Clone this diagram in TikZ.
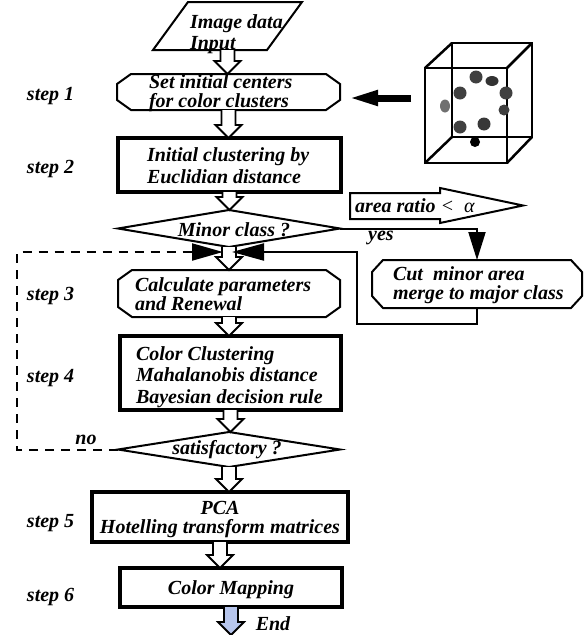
\documentclass[tikz,border=0pt]{standalone}
\usepackage{fontspec}
\setmainfont{Liberation Serif}
\usetikzlibrary{shapes.geometric,arrows.meta,calc}
\definecolor{endblue}{RGB}{182,197,236}
\definecolor{dotgray}{RGB}{64,64,64}
\definecolor{dotlight}{RGB}{112,112,112}
\newcommand{\chamf}[3]{\draw[boxline] ($(#1.north west)+(#2,0)$) -- ($(#1.north east)+(-#2,0)$) -- ($(#1.north east)+(0,-#3)$) -- ($(#1.south east)+(0,#3)$) -- ($(#1.south east)+(-#2,0)$) -- ($(#1.south west)+(#2,0)$) -- ($(#1.south west)+(0,#3)$) -- ($(#1.north west)+(0,-#3)$) -- cycle;}
\newcommand{\hollowarr}[3]{\filldraw[hollow, fill=#1] let \p1=(#2), \p2=(#3) in (\x1-7pt,\y1) -- (\x1-7pt,\y2+13pt) -- (\x1-13pt,\y2+13pt) -- (\x1,\y2) -- (\x1+13pt,\y2+13pt) -- (\x1+7pt,\y2+13pt) -- (\x1+7pt,\y1);}
\begin{document}
\begin{tikzpicture}[x=1pt,y=1pt,
  txt/.style={font=\fontsize{20}{19}\selectfont\bfseries\itshape, inner sep=0pt, outer sep=0pt},
  plain/.style={rectangle, inner sep=0pt, outer sep=0pt},
  boxline/.style={line width=2pt, line join=miter},
  thickbox/.style={rectangle, draw, line width=3.5pt, inner sep=0pt, outer sep=0pt},
  dia/.style={diamond, draw, line width=2pt, inner sep=0pt, outer sep=0pt},
  conn/.style={line width=2pt},
  hollow/.style={line width=1.8pt, line join=miter},
  cubeline/.style={line width=2.5pt, line join=miter}]
\useasboundingbox (0,0) rectangle (586,-635);

% ---- main column nodes ----
\node[plain, minimum width=149pt, minimum height=48pt] (in) at (227.5,-26) {};
\draw[boxline] ($(in.south west)$) -- ($(in.south east)+(-35,0)$) -- (in.north east) -- ($(in.north west)+(35,0)$) -- cycle;
\node[txt, anchor=west, align=left, font=\fontsize{20}{21}\selectfont\bfseries\itshape] (tin) at (190,-34) {Image data\\Input};

\node[plain, minimum width=223pt, minimum height=36pt] (s1) at (228.5,-92) {};
\chamf{s1}{14}{10}
\node[txt, anchor=west, align=left] (ts1) at (149,-93) {Set initial centers\\for color clusters};

\node[thickbox, minimum width=223pt, minimum height=54pt] (s2) at (229.5,-165) {};
\node[txt, anchor=west, align=left, font=\fontsize{20}{22}\selectfont\bfseries\itshape] (ts2) at (147,-166) {Initial clustering by\\Euclidian distance};

\node[dia, minimum width=222pt, minimum height=37pt] (d1) at (229,-228.5) {};
\node[txt] (td1) at (234,-230) {Minor class ?};

\node[plain, minimum width=222pt, minimum height=47pt] (s3) at (229,-293.5) {};
\chamf{s3}{14}{10}
\node[txt, anchor=west, align=left] (ts3) at (135,-294.5) {Calculate parameters\\and Renewal};

\node[thickbox, minimum width=221pt, minimum height=74pt] (s4) at (230.5,-373) {};
\node[txt, anchor=west, align=left, font=\fontsize{20}{21.5}\selectfont\bfseries\itshape] (ts4) at (136,-377) {Color Clustering\\Mahalanobis distance\\Bayesian decision rule};

\node[dia, minimum width=222pt, minimum height=35pt] (d2) at (229,-449.5) {};
\node[txt] (td2) at (227,-450) {satisfactory ?};

\node[thickbox, minimum width=256pt, minimum height=50pt] (s5) at (220,-517) {};
\node[txt, align=center] (ts5) at (220,-520) {PCA\\Hotelling transform matrices};

\node[thickbox, minimum width=222pt, minimum height=39pt] (s6) at (231,-587.5) {};
\node[txt] (ts6) at (231,-590) {Color Mapping};

\coordinate (endpt) at (232,-635);
\node[txt] (tend) at (273,-624) {End};

% ---- right side ----
\node[plain, minimum width=210pt, minimum height=48pt] (cut) at (477,-284) {};
\chamf{cut}{11}{12}
\node[txt, anchor=west, align=left] (tcut) at (393,-285) {Cut\ \ minor area\\merge to major class};

\node[plain, minimum width=173pt, minimum height=35pt] (area) at (436.5,-205.5) {};
\draw[boxline] ($(area.west)+(0,12.5)$) -- ($(area.west)+(90,12.5)$) -- ($(area.west)+(90,17.5)$) -- (area.east) -- ($(area.west)+(90,-17.5)$) -- ($(area.west)+(90,-13.5)$) -- ($(area.west)+(0,-13.5)$) -- cycle;
\node[txt, anchor=west] (tarea) at (355,-206) {area ratio {\mdseries\itshape <}\ \ {\mdseries\itshape α}};

\node[txt] (tyes) at (381,-238) {yes};
\node[txt] (tno) at (86,-440) {no};

% ---- step labels ----
\node[txt, anchor=west] (l1) at (27,-96) {step 1};
\node[txt, anchor=west] (l2) at (27,-169) {step 2};
\node[txt, anchor=west] (l3) at (27,-296) {step 3};
\node[txt, anchor=west] (l4) at (27,-378) {step 4};
\node[txt, anchor=west] (l5) at (27,-523) {step 5};
\node[txt, anchor=west] (l6) at (27,-597) {step 6};

% ---- hollow arrows ----
\hollowarr{white}{in.south}{s1.north}
\hollowarr{white}{s1.south}{s2.north}
\hollowarr{white}{s2.south}{d1.north}
\hollowarr{white}{d1.south}{s3.north}
\hollowarr{white}{s3.south}{s4.north}
\hollowarr{white}{s4.south}{d2.north}
\hollowarr{white}{d2.south}{s5.north}
\hollowarr{white}{s5.south}{s6.north}
\hollowarr{endblue}{s6.south}{endpt}

% ---- connectors ----
\draw[conn, -{Triangle[length=28pt,width=17pt]}] (d1.east) -| (cut.north);
\coordinate (fbR) at (357,-324);
\coordinate (fbT) at (357,-252);
\coordinate (tipR) at (232,-252);
\draw[conn, -{Triangle[length=32pt,width=17pt]}] (cut.south) |- (fbR) -- (fbT) -- (tipR);
\coordinate (dBL) at (17,-449.5);
\coordinate (dTL) at (17,-252);
\coordinate (tipL) at (223,-252);
\draw[conn, dash pattern=on 9pt off 7pt, -{Triangle[length=31pt,width=17pt]}] (d2.west) -- (dBL) -- (dTL) -- (tipL);

% ---- cube ----
\draw[cubeline] (425,-68) rectangle (507,-163);
\draw[cubeline] (452,-43) rectangle (532,-137);
\draw[cubeline] (425,-68) -- (452,-43) (507,-68) -- (532,-43) (425,-163) -- (452,-137) (507,-163) -- (532,-137);
\fill[dotgray] (476,-77) ellipse (6.5 and 6.5);
\fill[black!80] (492,-81) ellipse (6.5 and 5);
\fill[dotgray] (460,-93) ellipse (6.5 and 6.5);
\fill[black!75] (506,-93) ellipse (6.5 and 6.5);
\fill[dotlight] (445,-106) ellipse (5 and 6.5);
\fill[dotgray] (504,-110) ellipse (5.5 and 5.5);
\fill[dotgray] (460,-127) ellipse (6.5 and 6.5);
\fill[black!78] (484,-124) ellipse (6.5 and 6.5);
\fill[black] (475,-142) ellipse (5 and 5);
\coordinate (bt) at (411,-98);
\coordinate (bh) at (348,-98);
\draw[line width=7pt, -{Triangle[length=30pt,width=14pt]}] (bt) -- (bh);
\end{tikzpicture}
\end{document}
